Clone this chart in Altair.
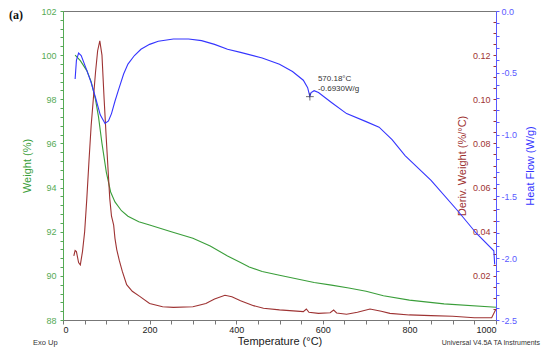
import altair as alt
import pandas as pd

# ---- data ----
temp_w = [28, 40, 55, 65, 75, 82, 90, 100, 110, 120, 135, 150, 175, 200, 250, 300, 340, 380,
          410, 430, 460, 500, 580, 620, 660, 700, 740, 800, 880, 1000]
weight = [100.0, 99.75, 99.3, 98.8, 98.0, 97.2, 96.0, 94.7, 93.8, 93.35, 92.95, 92.7, 92.45,
          92.3, 92.0, 91.7, 91.35, 90.9, 90.6, 90.4, 90.2, 90.03, 89.7, 89.58, 89.45, 89.3,
          89.1, 88.9, 88.73, 88.58]

temp_d = [25, 28, 31, 36, 40, 45, 50, 55, 60, 65, 70, 75, 80, 85, 90, 95, 100, 105, 108, 112,
          114, 117, 120, 124, 130, 137, 147, 160, 178, 200, 230, 255, 300, 330, 350, 374, 390,
          410, 440, 463, 500, 555, 562, 568, 590, 617, 625, 632, 655, 680, 709, 735, 755, 800,
          850, 900, 950, 990, 1000]
deriv = [0.029, 0.0315, 0.031, 0.026, 0.025, 0.031, 0.040, 0.055, 0.072, 0.088, 0.100, 0.112,
         0.122, 0.1265, 0.120, 0.100, 0.082, 0.065, 0.055, 0.047, 0.0455, 0.043, 0.037, 0.032,
         0.027, 0.022, 0.016, 0.013, 0.0106, 0.0075, 0.006, 0.0057, 0.006, 0.0075, 0.0095,
         0.0112, 0.0105, 0.0087, 0.0065, 0.0053, 0.0046, 0.0038, 0.0050, 0.0035, 0.0030,
         0.0033, 0.0045, 0.0032, 0.0026, 0.0035, 0.0050, 0.0040, 0.0030, 0.0023, 0.0020,
         0.0017, 0.0010, 0.0010, 0.0050]

temp_h = [28, 31, 36, 42, 55, 65, 75, 86, 97, 105, 112, 120, 128, 140, 150, 165, 180, 200,
          220, 255, 290, 320, 350, 380, 410, 460, 500, 530, 555, 565, 570, 573, 580, 590, 620,
          655, 700, 730, 760, 790, 850, 910, 955, 995, 997]
heat = [-0.55, -0.40, -0.34, -0.36, -0.48, -0.58, -0.70, -0.84, -0.91, -0.89, -0.83, -0.73,
        -0.64, -0.51, -0.43, -0.36, -0.31, -0.27, -0.245, -0.227, -0.227, -0.24, -0.27, -0.31,
        -0.335, -0.38, -0.43, -0.49, -0.56, -0.62, -0.69, -0.66, -0.645, -0.66, -0.74, -0.83,
        -0.895, -0.94, -1.04, -1.17, -1.37, -1.61, -1.80, -1.94, -2.05]

peak_T = 570.18
peak_H = -0.6930

x_ticks = list(range(0, 1001, 50))
w_ticks = [round(88 + 0.4 * i, 1) for i in range(36)]
d_ticks = [round(0.005 * i, 3) for i in range(1, 28)]
h_ticks = [round(-2.5 + 0.1 * i, 1) for i in range(26)]

FONT = "Liberation Sans"
GREEN = "#3a9e3a"
GREEN_L = "#55aa55"
BROWN = "#9e3333"
BLUE = "#3535ff"
BLUE_L = "#5a5aff"

df_w = pd.DataFrame({"T": temp_w, "v": weight})
df_d = pd.DataFrame({"T": temp_d, "v": deriv})
df_h = pd.DataFrame({"T": temp_h, "v": heat})
df_p = pd.DataFrame({"T": [peak_T], "v": [peak_H],
                     "l1": [f"{peak_T:.2f}°C"], "l2": [f"{peak_H:.4f}W/g"]})


def xenc():
    return alt.X("T:Q", scale=alt.Scale(domain=[0, 1000], nice=False),
                 axis=alt.Axis(values=x_ticks, format="d",
                               labelExpr="datum.value % 200 == 0 ? datum.label : ''",
                               title="Temperature (°C)", titleFontSize=11,
                               titleFontWeight="normal", titleFont=FONT, titleColor="#222",
                               labelFont=FONT, labelFontSize=9, labelColor="#222",
                               domainColor="#777", tickColor="#777", tickSize=4,
                               labelPadding=1, titlePadding=1, grid=False))


w_line = alt.Chart(df_w).mark_line(color=GREEN, strokeWidth=1.1).encode(
    x=xenc(),
    y=alt.Y("v:Q", scale=alt.Scale(domain=[88, 102], nice=False, zero=False),
            axis=alt.Axis(orient="left", values=w_ticks, format=".0f",
                          labelExpr="abs(datum.value/2 - round(datum.value/2)) < 0.01 ? datum.label : ''",
                          title="Weight (%)", titleColor=GREEN, titleFont=FONT,
                          titleFontSize=11, titleFontWeight="normal", titlePadding=8,
                          labelColor=GREEN_L, labelFont=FONT, labelFontSize=9,
                          domainColor=GREEN_L, tickColor=GREEN_L, tickSize=3,
                          labelPadding=4, grid=False)),
)

d_line = alt.Chart(df_d).mark_line(color=BROWN, strokeWidth=1.1).encode(
    x=xenc(),
    y=alt.Y("v:Q", scale=alt.Scale(domain=[0, 0.14], nice=False),
            axis=alt.Axis(orient="left", offset=-433, values=d_ticks, format=".2f",
                          labelExpr="abs(datum.value*50 - round(datum.value*50)) < 0.01 ? datum.label : ''",
                          title="Deriv. Weight (%/°C)", titleColor=BROWN, titleFont=FONT,
                          titleFontSize=11, titleFontWeight="normal", titlePadding=5,
                          labelColor=BROWN, labelFont=FONT, labelFontSize=9,
                          domain=False, tickColor=BROWN, tickSize=3,
                          labelPadding=3, grid=False)),
)

h_y = alt.Y("v:Q", scale=alt.Scale(domain=[-2.5, 0], nice=False, zero=False),
            axis=alt.Axis(orient="right", values=h_ticks,
                          labelExpr="abs(datum.value*2 - round(datum.value*2)) < 0.001 ? (datum.value == 0 ? '0.0' : '-' + format(-datum.value, '.1f')) : ''",
                          title="Heat Flow (W/g)", titleColor=BLUE, titleFont=FONT,
                          titleFontSize=11, titleFontWeight="normal", titlePadding=19,
                          titleAngle=270, labelColor=BLUE_L, labelFont=FONT,
                          labelFontSize=9, domainColor=BLUE_L, tickColor=BLUE_L,
                          tickSize=3, labelPadding=2, grid=False))

h_line = alt.Chart(df_h).mark_line(color=BLUE, strokeWidth=1.1).encode(x=xenc(), y=h_y)
h_mark = alt.Chart(df_p).mark_point(shape="M-1,0H1M0,-1V1", size=60, filled=False,
                                    color="#333", strokeWidth=1).encode(x=xenc(), y=h_y)
h_t1 = alt.Chart(df_p).mark_text(align="left", dx=8, dy=-18, font=FONT, fontSize=8,
                                 color="#333").encode(x=xenc(), y=h_y, text="l1:N")
h_t2 = alt.Chart(df_p).mark_text(align="left", dx=8, dy=-8, font=FONT, fontSize=8,
                                 color="#333").encode(x=xenc(), y=h_y, text="l2:N")
heat_layer = alt.layer(h_line, h_mark, h_t1, h_t2)

one = alt.Data(values=[{"a": 1}])
t_a = alt.Chart(one).mark_text(text="(a)", font="Liberation Serif", fontWeight="bold",
                               fontSize=12, align="left", color="#111").encode(
    x=alt.value(-54), y=alt.value(4))
t_exo = alt.Chart(one).mark_text(text="Exo Up", font=FONT, fontSize=7.5, align="left",
                                 color="#333").encode(x=alt.value(-30), y=alt.value(332))
t_univ = alt.Chart(one).mark_text(text="Universal V4.5A TA Instruments", font=FONT,
                                  fontSize=7, align="right", color="#333").encode(
    x=alt.value(477), y=alt.value(332))

chart = alt.layer(w_line, d_line, heat_layer, t_a, t_exo, t_univ).resolve_scale(
    y="independent"
).properties(
    width=433, height=309,
    autosize=alt.AutoSizeParams(type="none"),
    padding={"left": 55, "top": 3, "right": 46, "bottom": 29},
).configure_view(stroke="#777", strokeWidth=1)

chart.save("out.html", embed_options={"renderer": "svg", "actions": False})
